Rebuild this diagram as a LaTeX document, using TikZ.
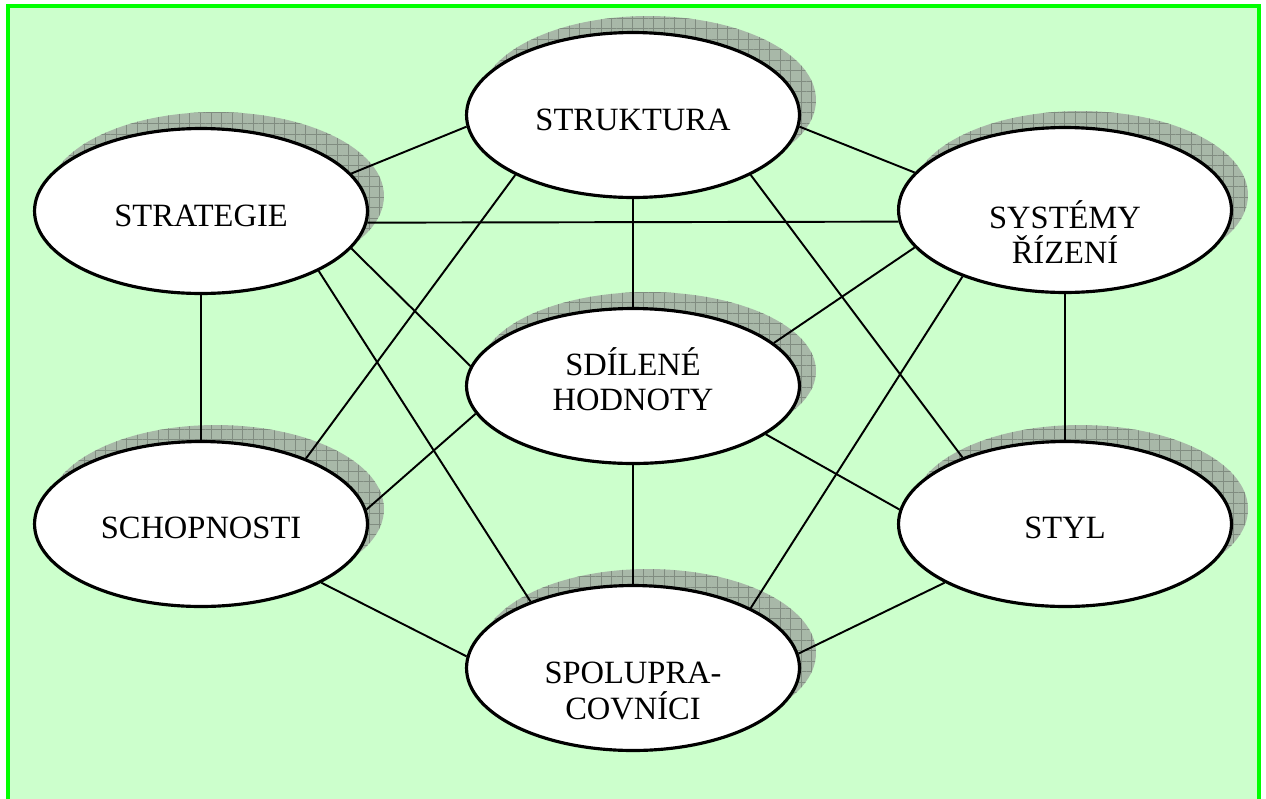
\documentclass[tikz,border=0pt]{standalone}
\usepackage{fontspec}
\setmainfont{Liberation Serif}
\usetikzlibrary{shapes, patterns.meta}
\definecolor{pozadi}{RGB}{204,255,204}
\definecolor{ramecek}{RGB}{0,255,0}
\definecolor{stinbarva}{RGB}{168,184,168}
\definecolor{mrizka}{RGB}{128,140,128}
\tikzstyle{oval}=[ellipse, draw, fill=white, line width=1.8pt, minimum width=6.66cm, minimum height=3.3cm, inner sep=0pt]
\tikzstyle{popis}=[font=\fontsize{18.5}{20}\selectfont, align=center]
\tikzstyle{spoj}=[line width=1.1pt]
\tikzstyle{stin}=[fill=stinbarva, postaction={pattern={Hatch[angle=0, distance=6pt, line width=0.35pt]}, pattern color=mrizka}]
\pgfdeclarelayer{stiny}
\pgfdeclarelayer{spoje}
\pgfsetlayers{stiny,spoje,main}

\begin{document}
\begin{tikzpicture}[x=0.02cm, y=-0.02cm]
                \useasboundingbox (0,0) rectangle (1266,798);
                \clip (0,0) rectangle (1266,798);

                % Pozadi
                \begin{pgfonlayer}{stiny}
                    \fill[white] (0,0) rectangle (1266,798);
                    \draw[ramecek, fill=pozadi, line width=0.08cm] (8,6) rectangle (1259,840);
                \end{pgfonlayer}

                % Uzly
                \node[oval, label={[popis, yshift=-0.1cm]center:STRUKTURA}] (struk) at (633,115) {};
                \node[oval, label={[popis, yshift=-0.1cm]center:STRATEGIE}] (strat) at (201,211) {};
                \node[oval, label={[popis, yshift=-0.44cm]center:{SYSTÉMY\\ŘÍZENÍ}}] (sys) at (1065,210) {};
                \node[oval, minimum height=3.1cm, label={[popis, yshift=0.14cm]center:{SDÍLENÉ\\HODNOTY}}] (sdil) at (633,386) {};
                \node[oval, label={[popis, yshift=-0.08cm]center:SCHOPNOSTI}] (schop) at (201,524) {};
                \node[oval, label={[popis, yshift=-0.08cm]center:STYL}] (styl) at (1065,524) {};
                \node[oval, label={[popis, yshift=-0.46cm]center:{SPOLUPRA-\\COVNÍCI}}] (spol) at (633,668) {};

                % Stiny
                \begin{pgfonlayer}{stiny}
                    \foreach \n in {struk,strat,sys,schop,styl,spol}
                        \path[stin] ([xshift=0.3cm, yshift=0.3cm]\n.center) ellipse [x radius=3.36cm, y radius=1.68cm];
                    \path[stin] ([xshift=0.3cm, yshift=0.3cm]sdil.center) ellipse [x radius=3.36cm, y radius=1.58cm];
                \end{pgfonlayer}

                % Spojnice
                \begin{pgfonlayer}{spoje}
                    \draw[spoj] (strat.14) -- (struk.184);
                    \draw[spoj] (struk.356) -- (sys.166);
                    \draw[spoj] (strat.356) -- (sys.184);
                    \draw[spoj] (struk.270) -- (sdil.90);
                    \draw[spoj] (struk.207) -- (schop.32);
                    \draw[spoj] (struk.333) -- (styl.147);
                    \draw[spoj] (strat.270) -- (schop.90);
                    \draw[spoj] (sys.270) -- (styl.90);
                    \draw[spoj] (strat.346) -- (sdil.173);
                    \draw[spoj] (strat.333) -- (spol.147);
                    \draw[spoj] (sdil.190) -- (schop.5);
                    \draw[spoj] (sys.194) -- (sdil.17);
                    \draw[spoj] (sys.213) -- (spol.27);
                    \draw[spoj] (sdil.340) -- (styl.175);
                    \draw[spoj] (sdil.270) -- (spol.90);
                    \draw[spoj] (schop.334) -- (spol.176);
                    \draw[spoj] (styl.206) -- (spol.5);
                \end{pgfonlayer}
            \end{tikzpicture}
\end{document}
